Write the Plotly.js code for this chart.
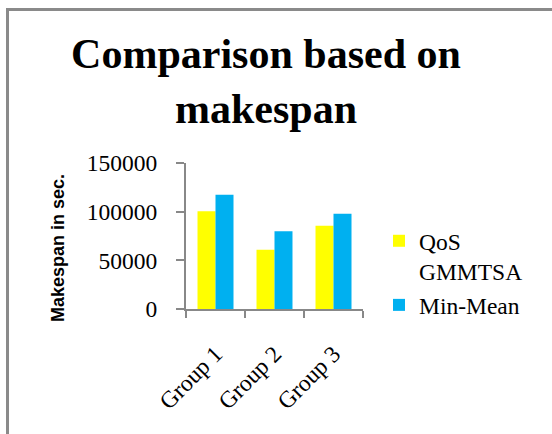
<!DOCTYPE html>
<html>
<head>
<meta charset="utf-8">
<script src="https://cdn.plot.ly/plotly-3.0.1.min.js"></script>
<style>
  html, body { margin: 0; padding: 0; background: #ffffff; }
  #wrap { position: relative; width: 552px; height: 434px; overflow: hidden; }
  #chart { position: absolute; left: 0; top: 0; width: 552px; height: 434px; }
  #frame { position: absolute; left: 6px; top: 8px; width: 600px; height: 500px;
           border-left: 3px solid #8a8a8a; border-top: 3px solid #8a8a8a; pointer-events: none; }
</style>
</head>
<body>
<div id="wrap">
  <div id="chart"></div>
  <div id="frame"></div>
</div>
<script>
const categories = ["Group 1", "Group 2", "Group 3"];
const qosGmmtsa = [100500, 61000, 85500];
const minMean = [117500, 80000, 97800];
const seriesNames = ["QoS<br>GMMTSA", "Min-Mean"];
const tickValues = [0, 50000, 100000, 150000];
const tickLabels = ["0", "50000", "100000", "150000"];
const yTitle = "Makespan in sec.";
const chartTitle = "Comparison based on<br>makespan";

const serif = "Liberation Serif, Times New Roman, serif";
const sans = "Liberation Sans, Arial, sans-serif";

const traces = [
  { type: "bar", x: categories, y: qosGmmtsa, name: seriesNames[0],
    marker: { color: "#FFFF00" } },
  { type: "bar", x: categories, y: minMean, name: seriesNames[1],
    marker: { color: "#00B0F0" } }
];

const layout = {
  width: 552, height: 434, autosize: false,
  paper_bgcolor: "#ffffff", plot_bgcolor: "#ffffff",
  margin: { l: 186, r: 189, t: 163, b: 125, pad: 0 },
  barmode: "group", bargap: 0.39, bargroupgap: 0,
  title: {
    text: "<b>" + chartTitle + "</b>",
    font: { family: serif, size: 42, color: "#000000" },
    x: 266 / 552, xanchor: "center", xref: "container",
    y: 1 - 68 / 434, yanchor: "middle", yref: "container"
  },
  xaxis: {
    type: "category",
    showline: true, linecolor: "#888888", linewidth: 2,
    ticks: "outside", ticklen: 7, tickcolor: "#888888", tickwidth: 2,
    tickson: "boundaries",
    tickangle: -45,
    ticklabelstandoff: 20,
    tickfont: { family: serif, size: 23.5, color: "#000000" },
    showgrid: false, zeroline: false
  },
  yaxis: {
    range: [0, 150000],
    tickvals: tickValues, ticktext: tickLabels,
    showline: true, linecolor: "#888888", linewidth: 2,
    ticks: "outside", ticklen: 8, tickcolor: "#888888", tickwidth: 2,
    ticklabelstandoff: 14,
    tickfont: { family: serif, size: 23.5, color: "#000000" },
    showgrid: false, zeroline: false
  },
  annotations: [{
    text: "<b>" + yTitle + "</b>",
    textangle: -90, showarrow: false,
    xref: "paper", yref: "paper",
    x: -128 / 177, y: 0.5 - 12 / 146, xanchor: "center", yanchor: "middle",
    font: { family: sans, size: 18, color: "#000000" }
  }],
  legend: {
    x: 379 / 552, xref: "container", xanchor: "left",
    y: 1 - 219 / 434, yref: "container", yanchor: "top",
    valign: "top",
    font: { family: serif, size: 23.5, color: "#000000" },
    bgcolor: "rgba(0,0,0,0)", tracegroupgap: 0
  },
  showlegend: true
};

Plotly.newPlot("chart", traces, layout, { staticPlot: true, displayModeBar: false });
</script>
</body>
</html>
